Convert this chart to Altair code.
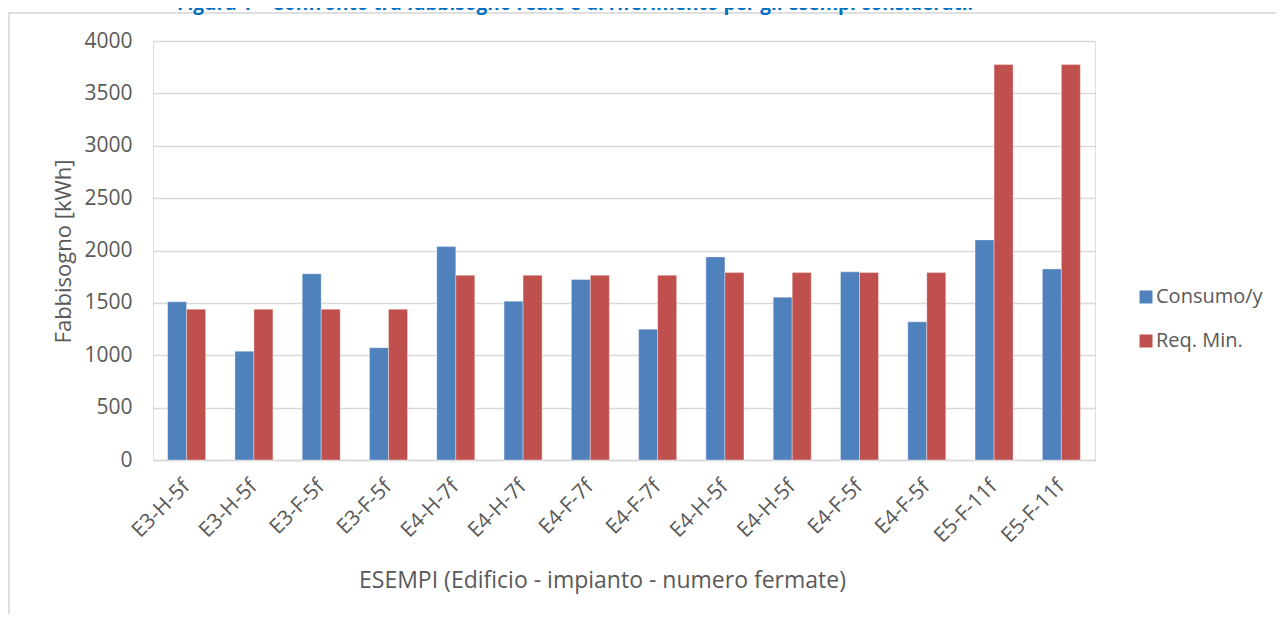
import altair as alt
import pandas as pd

categories = ["E3-H-5f", "E3-H-5f", "E3-F-5f", "E3-F-5f", "E4-H-7f", "E4-H-7f", "E4-F-7f",
              "E4-F-7f", "E4-H-5f", "E4-H-5f", "E4-F-5f", "E4-F-5f", "E5-F-11f", "E5-F-11f"]
consumo = [1510, 1039, 1777, 1072, 2037, 1516, 1723, 1249, 1939, 1554, 1796, 1319, 2101, 1824]
req_min = [1440, 1440, 1440, 1440, 1764, 1764, 1764, 1764, 1789, 1789, 1789, 1789, 3775, 3775]
series = ["Consumo/y", "Req. Min."]
y_ticks = [0, 500, 1000, 1500, 2000, 2500, 3000, 3500, 4000]
title_text = "Figura 1 – Confronto tra fabbisogno reale e di riferimento per gli esempi considerati."

rows = []
for i, c in enumerate(categories):
    rows.append({"idx": i, "cat": c, "serie": series[0], "val": consumo[i]})
    rows.append({"idx": i, "cat": c, "serie": series[1], "val": req_min[i]})
df = pd.DataFrame(rows)

FONT = "Open Sans"
GRAY = "#595959"
label_expr = "[" + ",".join("'" + c + "'" for c in categories) + "][datum.value]"

bars = alt.Chart(df).mark_bar(stroke="white", strokeWidth=0.6, strokeOpacity=0.6).encode(
    x=alt.X("idx:O", scale=alt.Scale(paddingInner=0.435, paddingOuter=0.2175),
            axis=alt.Axis(labelExpr=label_expr, labelAngle=-45, labelAlign="right",
                          labelBaseline="middle", labelPadding=23, ticks=False,
                          domainColor="#d9d9d9", domainWidth=1.5,
                          labelFont=FONT, labelFontSize=21, labelColor=GRAY,
                          title="ESEMPI (Edificio  - impianto - numero fermate)",
                          titleFont=FONT, titleFontSize=23, titleFontWeight="normal",
                          titleColor=GRAY, titleX=449, titleY=127,
                          titleBaseline="alphabetic", titleAnchor="middle")),
    xOffset=alt.XOffset("serie:N", sort=series),
    y=alt.Y("val:Q", scale=alt.Scale(domain=[0, 4000], nice=False),
            axis=alt.Axis(values=y_ticks, format="d", ticks=False, domain=False,
                          labelPadding=21, grid=True, gridColor="#d9d9d9", gridWidth=1.3,
                          labelFont=FONT, labelFontSize=21, labelColor=GRAY,
                          title="Fabbisogno [kWh]", titleFont=FONT, titleFontSize=22,
                          titleFontWeight="normal", titleColor=GRAY,
                          titleX=-83, titleY=210, titleBaseline="alphabetic",
                          titleAnchor="middle")),
    color=alt.Color("serie:N", sort=series,
                    scale=alt.Scale(domain=series, range=["#4F81BD", "#C0504D"]),
                    legend=alt.Legend(title=None, orient="none", legendX=983, legendY=246,
                                      symbolType="square", symbolSize=169,
                                      symbolStrokeWidth=0, labelFont=FONT,
                                      labelFontSize=20, labelColor=GRAY, labelOffset=0,
                                      rowPadding=24, padding=0)),
)

deco_df = pd.DataFrame({"t": [title_text]})
title_mark = alt.Chart(deco_df).mark_text(
    font=FONT, fontSize=19, fontWeight="bold", color="#0070C0",
    align="center", baseline="alphabetic").encode(
    x=alt.value(422), y=alt.value(-31), text="t:N")

border_top = alt.Chart(deco_df).mark_rule(color="#d4d4d4", strokeWidth=1.5).encode(
    x=alt.value(-145), x2=alt.value(1140), y=alt.value(-28))
border_left = alt.Chart(deco_df).mark_rule(color="#d4d4d4", strokeWidth=1.5).encode(
    x=alt.value(-144), y=alt.value(-28), y2=alt.value(640))

chart = alt.layer(bars, border_top, border_left, title_mark).properties(
    width=942, height=419,
    autosize=alt.AutoSizeParams(type="none"),
    padding={"left": 145, "top": 33, "right": 181, "bottom": 154},
).configure_view(stroke=None).configure(background="white")

chart.save("out.html", embed_options={"renderer": "svg", "actions": False})
